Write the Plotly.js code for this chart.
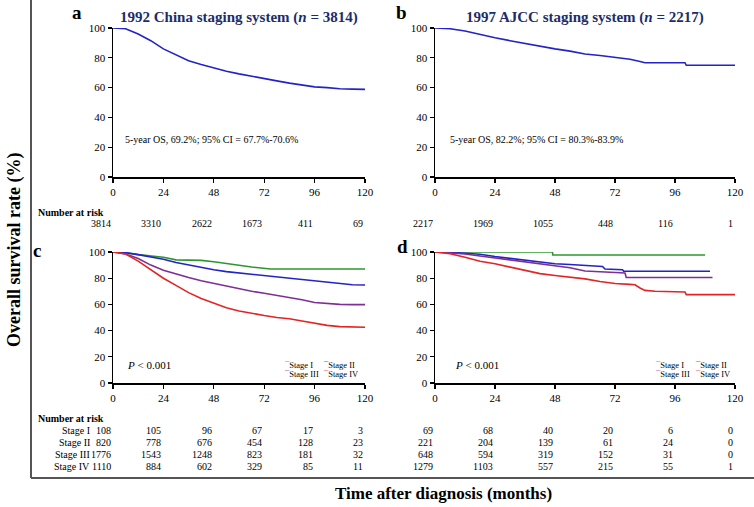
<!DOCTYPE html>
<html>
<head>
<meta charset="utf-8">
<script src="https://cdn.plot.ly/plotly-3.0.1.min.js"></script>
<style>
  html, body { margin: 0; padding: 0; background: #fff; }
  #chart { width: 754px; height: 507px; }
</style>
</head>
<body>
<div id="chart"></div>
<script>
// ---- data (survival %, months) ----
var riskTicks = [0, 24, 48, 72, 96, 120];
var stageNames = ["Stage I", "Stage II", "Stage III", "Stage IV"];

// a: 1992 China, all patients
var chinaMonths = [0, 6, 12, 18, 24, 30, 36, 42, 48, 54, 60, 66, 72, 78, 84, 90, 96, 102, 108, 114, 120];
var chinaAll = [100, 99.5, 96, 91.5, 86, 82, 78, 75.5, 73, 71, 69.2, 67.5, 66, 64.5, 63, 61.5, 60.5, 60, 59.2, 59, 58.8];

// b: 1997 AJCC, all patients
var ajccAllMonths = [0, 6, 12, 18, 24, 30, 36, 42, 48, 54, 60, 66, 72, 78, 82, 84, 100, 100.5, 120];
var ajccAll = [100, 99.5, 98, 95.5, 93.5, 91.5, 89.5, 87.5, 86, 84.5, 82.5, 81.5, 80.5, 79, 77.5, 76.7, 76.7, 75, 75];

// c: 1992 China by stage
var cStageIMonths = [0, 6, 12, 18, 24, 30, 42, 48, 54, 60, 66, 75, 120];
var cStageI = [100, 99.5, 98, 97, 96, 94, 93.6, 92.5, 91, 89.5, 88.5, 87, 87];
var cStageII = [100, 99.5, 98, 96.5, 94.5, 92, 90, 88, 86.5, 85, 84, 83, 82, 81, 80, 79.5, 78.5, 77, 76, 75, 74.8];
var cStageIII = [100, 98.5, 95, 90, 86, 83, 80.5, 78, 76, 73.5, 71.5, 70, 68.5, 67, 65.5, 63.5, 61.5, 60.5, 60, 59.8, 59.8];
var cStageIV = [100, 98.5, 93, 86.5, 80, 74.5, 69, 64.5, 61, 57.5, 55, 53, 51.5, 50, 49, 47.3, 45.5, 44, 43, 42.5, 42.5];

// d: 1997 AJCC by stage
var aStageIMonths = [0, 47, 47.1, 108];
var aStageI = [100, 100, 97.7, 97.7];
var aStageIIMonths = [0, 6, 12, 18, 24, 30, 36, 42, 48, 54, 60, 66, 67, 68, 75, 75.5, 110];
var aStageII = [100, 99.8, 99, 98.3, 96.5, 95, 94, 92, 91, 90.5, 90, 89, 89, 87, 86.5, 85.3, 85.3];
var aStageIIIMonths = [0, 6, 12, 18, 24, 30, 36, 42, 48, 54, 60, 66, 72, 76, 76.5, 111];
var aStageIII = [100, 99.5, 98.5, 97, 95.5, 94.3, 93, 91.5, 89.5, 88, 85.5, 85, 84.5, 84, 80.5, 80.5];
var aStageIVMonths = [0, 6, 12, 18, 24, 30, 36, 42, 48, 54, 60, 66, 72, 78, 80, 82, 84, 88, 100, 100.5, 120];
var aStageIV = [100, 98.7, 96, 93, 91, 88.5, 85.8, 83.5, 82, 80.8, 79.5, 77.5, 76, 75.3, 75, 72.5, 70.7, 70, 69.5, 67.5, 67.5];

// number at risk
var chinaRiskAll = [3814, 3310, 2622, 1673, 411, 69];
var ajccRiskAll = [2217, 1969, 1055, 448, 116, 1];
var chinaRiskStage = [
  [108, 105, 96, 67, 17, 3],
  [820, 778, 676, 454, 128, 23],
  [1776, 1543, 1248, 823, 181, 32],
  [1110, 884, 602, 329, 85, 11]
];
var ajccRiskStage = [
  [69, 68, 40, 20, 6, 0],
  [221, 204, 139, 61, 24, 0],
  [648, 594, 319, 152, 31, 0],
  [1279, 1103, 557, 215, 55, 1]
];

// ---- styling ----
var W = 754, H = 507;
var FONT = "Liberation Serif, Times New Roman, serif";
var BLUE = "#2323c8", GREEN = "#2f962f", PURPLE = "#7d2f96", RED = "#e42424";
var stageColors = [GREEN, BLUE, PURPLE, RED];
function px(x) { return x / W; }
function py(y) { return 1 - y / H; }

function line(x, y, color, xa, ya) {
  return {x: x, y: y, type: "scatter", mode: "lines", xaxis: xa, yaxis: ya,
          line: {color: color, width: 1.6}, hoverinfo: "skip", showlegend: false};
}

var traces = [
  line(chinaMonths, chinaAll, BLUE, "x", "y"),
  line(ajccAllMonths, ajccAll, BLUE, "x2", "y2"),
  line(cStageIMonths, cStageI, GREEN, "x3", "y3"),
  line(chinaMonths, cStageII, BLUE, "x3", "y3"),
  line(chinaMonths, cStageIII, PURPLE, "x3", "y3"),
  line(chinaMonths, cStageIV, RED, "x3", "y3"),
  line(aStageIMonths, aStageI, GREEN, "x4", "y4"),
  line(aStageIIMonths, aStageII, BLUE, "x4", "y4"),
  line(aStageIIIMonths, aStageIII, PURPLE, "x4", "y4"),
  line(aStageIVMonths, aStageIV, RED, "x4", "y4")
];

function xax(dom, anchor) {
  return {domain: dom, anchor: anchor, range: [0, 120], tickvals: riskTicks,
          showgrid: false, zeroline: false, showline: true, linecolor: "#000", linewidth: 1.5,
          ticks: "outside", ticklen: 4, tickwidth: 1.2, tickcolor: "#000",
          tickfont: {family: FONT, size: 11, color: "#000"}, fixedrange: true};
}
function yax(dom, anchor) {
  return {domain: dom, anchor: anchor, range: [0, 100], tickvals: [0, 20, 40, 60, 80, 100],
          showgrid: false, zeroline: false, showline: true, linecolor: "#000", linewidth: 1.5,
          ticks: "outside", ticklen: 4, tickwidth: 1.2, tickcolor: "#000",
          tickfont: {family: FONT, size: 11, color: "#000"}, fixedrange: true};
}

var leftX = [px(113), px(365)], rightX = [px(435), px(735)];
var topY = [py(177), py(28)], botY = [py(383), py(252)];

var ann = [];
function txt(o) {
  var a = Object.assign({showarrow: false, xanchor: "center", yanchor: "middle",
                         font: {family: FONT, size: 10, color: "#000"}}, o);
  ann.push(a);
}

// panel letters and titles
var letterFont = {family: FONT, size: 19, color: "#000"};
txt({xref: "paper", yref: "paper", x: px(77), y: py(0), yanchor: "top", text: "<b>a</b>", font: letterFont});
txt({xref: "paper", yref: "paper", x: px(401), y: py(0), yanchor: "top", text: "<b>b</b>", font: letterFont});
txt({xref: "paper", yref: "paper", x: px(37), y: py(250), text: "<b>c</b>", font: letterFont});
txt({xref: "paper", yref: "paper", x: px(402), y: py(246), text: "<b>d</b>", font: letterFont});
txt({xref: "paper", yref: "paper", x: px(239), y: py(18), text: "<b>1992 China staging system (<i>n</i> = 3814)</b>",
     font: {family: FONT, size: 15, color: "#1d2c6b"}});
txt({xref: "paper", yref: "paper", x: px(585), y: py(18), text: "<b>1997 AJCC staging system (<i>n</i> = 2217)</b>",
     font: {family: FONT, size: 15, color: "#1d2c6b"}});

// in-plot notes
txt({xref: "x", yref: "y", x: 4.8, y: 25, xanchor: "left", text: "5-year OS, 69.2%; 95% CI = 67.7%-70.6%"});
txt({xref: "x2", yref: "y2", x: 5.2, y: 25, xanchor: "left", text: "5-year OS, 82.2%; 95% CI = 80.3%-83.9%"});
txt({xref: "x3", yref: "y3", x: 5.7, y: 13.7, xanchor: "left", text: "<i>P</i> &lt; 0.001", font: {family: FONT, size: 11, color: "#000"}});
txt({xref: "x4", yref: "y4", x: 7.2, y: 13.7, xanchor: "left", text: "<i>P</i> &lt; 0.001", font: {family: FONT, size: 11, color: "#000"}});

// small legends
function legend(xa, xs) {
  stageNames.forEach(function (s, i) {
    txt({xref: xa, yref: "paper", x: xs[i % 2], y: py(i < 2 ? 365 : 374), xanchor: "left",
         text: '<span style="color:' + stageColors[i] + '">¯</span>' + s,
         font: {family: FONT, size: 8.5, color: "#000"}});
  });
}
legend("x3", [80.5, 99]);
legend("x4", [87, 103]);

// number at risk
txt({xref: "paper", yref: "paper", x: px(36), y: py(212), xanchor: "left", text: "<b>Number at risk</b>"});
txt({xref: "paper", yref: "paper", x: px(36), y: py(418), xanchor: "left", text: "<b>Number at risk</b>"});
riskTicks.forEach(function (t, j) {
  txt({xref: "x", yref: "paper", x: t, y: py(223), xanchor: "right", text: String(chinaRiskAll[j])});
  txt({xref: "x2", yref: "paper", x: t, y: py(223), xanchor: "right", text: String(ajccRiskAll[j])});
});
var rowY = [430, 442, 454, 466];
stageNames.forEach(function (s, i) {
  txt({xref: "paper", yref: "paper", x: px(92), y: py(rowY[i]), xanchor: "right", text: s});
  riskTicks.forEach(function (t, j) {
    txt({xref: "x3", yref: "paper", x: t, y: py(rowY[i]), xanchor: "right", text: String(chinaRiskStage[i][j])});
    txt({xref: "x4", yref: "paper", x: t, y: py(rowY[i]), xanchor: "right", text: String(ajccRiskStage[i][j])});
  });
});

// shared axis titles
txt({xref: "paper", yref: "paper", x: px(14), y: py(250), textangle: -90, text: "<b>Overall survival rate (%)</b>",
     font: {family: FONT, size: 18, color: "#000"}});
txt({xref: "paper", yref: "paper", x: px(443), y: py(493), text: "<b>Time after diagnosis (months)</b>",
     font: {family: FONT, size: 17, color: "#000"}});

var layout = {
  width: W, height: H,
  margin: {l: 0, r: 0, t: 0, b: 0},
  paper_bgcolor: "#fff", plot_bgcolor: "#fff",
  showlegend: false,
  xaxis: xax(leftX, "y"), yaxis: yax(topY, "x"),
  xaxis2: xax(rightX, "y2"), yaxis2: yax(topY, "x2"),
  xaxis3: xax(leftX, "y3"), yaxis3: yax(botY, "x3"),
  xaxis4: xax(rightX, "y4"), yaxis4: yax(botY, "x4"),
  annotations: ann,
  shapes: [
    {type: "line", xref: "paper", yref: "paper", x0: px(31), x1: px(31), y0: 1, y1: py(478), line: {color: "#555", width: 2}},
    {type: "line", xref: "paper", yref: "paper", x0: px(31), x1: 1, y0: py(478), y1: py(478), line: {color: "#555", width: 2}}
  ]
};

Plotly.newPlot("chart", traces, layout, {displayModeBar: false, staticPlot: true});
</script>
</body>
</html>
